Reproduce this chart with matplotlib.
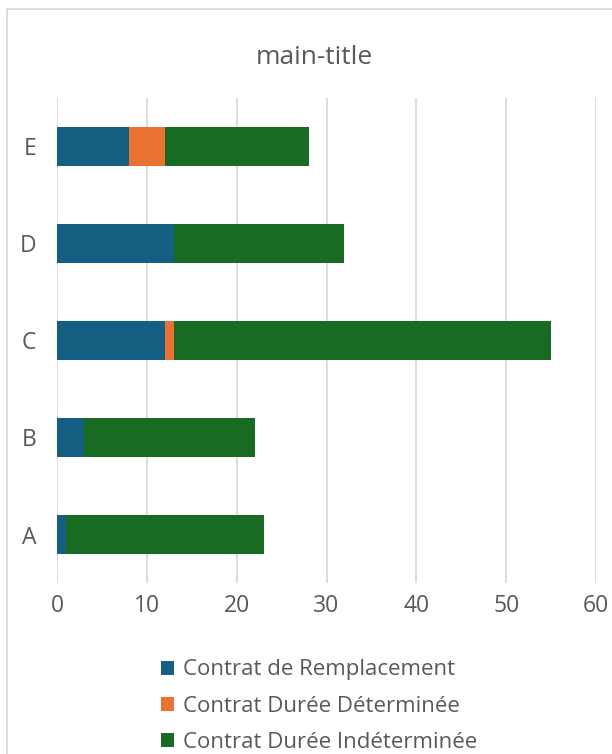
import matplotlib
matplotlib.use("Agg")
import matplotlib.pyplot as plt
from matplotlib.patches import Rectangle

plt.rcParams['font.family'] = ['Open Sans', 'DejaVu Sans']

categories = ["A", "B", "C", "D", "E"]
remplacement = [1, 3, 12, 13, 8]
cdd = [0, 0, 1, 0, 4]
cdi = [22, 19, 42, 19, 16]
series_names = ["Contrat de Remplacement", "Contrat Durée Déterminée", "Contrat Durée Indéterminée"]
colors = ["#156082", "#E97132", "#196B24"]
x_ticks = [0, 10, 20, 30, 40, 50, 60]

text_color = "#595959"
grid_color = "#D9D9D9"

fig = plt.figure(figsize=(6.12, 7.54), dpi=100)
fig.patches.append(Rectangle((7 / 612, -0.1), 1.2, 1 - 9 / 754 + 0.1, transform=fig.transFigure,
                             fill=False, edgecolor=grid_color, linewidth=1.3))

ax = fig.add_axes([57 / 612, 1 - 583 / 754, 539 / 612, 485 / 754])
ypos = list(range(len(categories)))
left = [0] * len(categories)
for vals, name, col in zip([remplacement, cdd, cdi], series_names, colors):
    ax.barh(ypos, vals, left=left, height=0.4, color=col, label=name, zorder=3)
    left = [a + b for a, b in zip(left, vals)]

ax.set_xlim(0, 60)
ax.set_ylim(-0.5, len(categories) - 0.5)
ax.set_xticks(x_ticks)
ax.set_yticks(ypos)
ax.set_yticklabels(categories)
ax.xaxis.grid(True, color=grid_color, linewidth=1.3, zorder=0)
for s in ax.spines.values():
    s.set_visible(False)
ax.tick_params(axis="both", length=0, colors=text_color, labelsize=16.5)
ax.tick_params(axis="x", pad=8)
ax.tick_params(axis="y", pad=15)

fig.text(0.513, 1 - 58 / 754, "main-title", ha="center", va="center", fontsize=19, color=text_color)

leg = fig.legend(loc="center", bbox_to_anchor=(0.521, 1 - 706 / 754), ncol=1, frameon=False,
                 fontsize=16, handlelength=0.6, handleheight=0.6, handletextpad=0.4,
                 labelspacing=0.68, labelcolor=text_color)

fig.savefig("out.png", dpi=100)
